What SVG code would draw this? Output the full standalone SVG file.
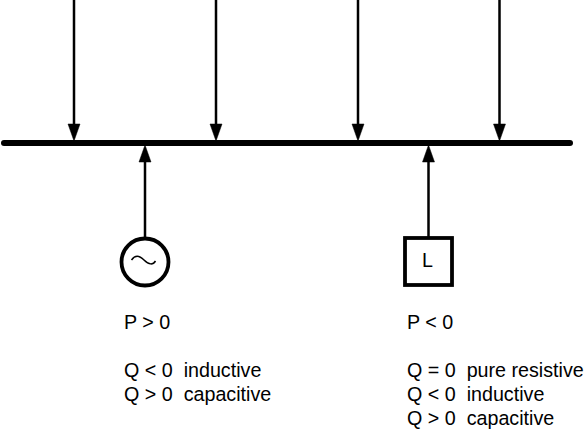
<svg xmlns="http://www.w3.org/2000/svg" width="586" height="432" viewBox="0 0 586 432">
<style>
.c{fill:none;stroke:#000;stroke-width:2.500}
.a{fill:#000;stroke:#000;stroke-width:.5}
.n{fill:#fff;stroke:#000;stroke-width:3.800}
text{font-family:"Liberation Sans",Arial,sans-serif;font-size:19.700px;fill:#000;white-space:pre}
</style>
<rect width="586" height="432" fill="#fff"/>
<g id="connectors">
<path d="M4 143H570" fill="none" stroke="#000" stroke-width="6" stroke-linecap="round"/>
<path class="c" d="M74 0V126M216 0V126M358 0V126M499.500 0V126M145 160V237M428.500 160V237"/>
<path class="a" d="M68 124H80L74 141ZM210 124H222L216 141ZM352 124H364L358 141ZM493.500 124H505.500L499.500 141ZM139 162H151L145 145ZM422.500 162H434.500L428.500 145Z"/>
</g>
<g id="generator">
<circle class="n" cx="145" cy="262" r="23.500"/>
<path d="M131.500 260C135 255 139 255 144 260C149 265 153 265 155.500 261" fill="none" stroke="#000" stroke-width="1.500"/>
</g>
<g id="load">
<rect class="n" x="405" y="238" width="47" height="47"/>
<text x="422" y="267">L</text>
</g>
<g id="generator-label">
<text x="124" y="329">P &gt; 0</text>
<text x="124" y="377">Q &lt; 0  inductive</text>
<text x="124" y="401">Q &gt; 0  capacitive</text>
</g>
<g id="load-label">
<text x="407" y="329">P &lt; 0</text>
<text x="407" y="377">Q = 0  pure resistive</text>
<text x="407" y="401">Q &lt; 0  inductive</text>
<text x="407" y="425">Q &gt; 0  capacitive</text>
</g>
</svg>
